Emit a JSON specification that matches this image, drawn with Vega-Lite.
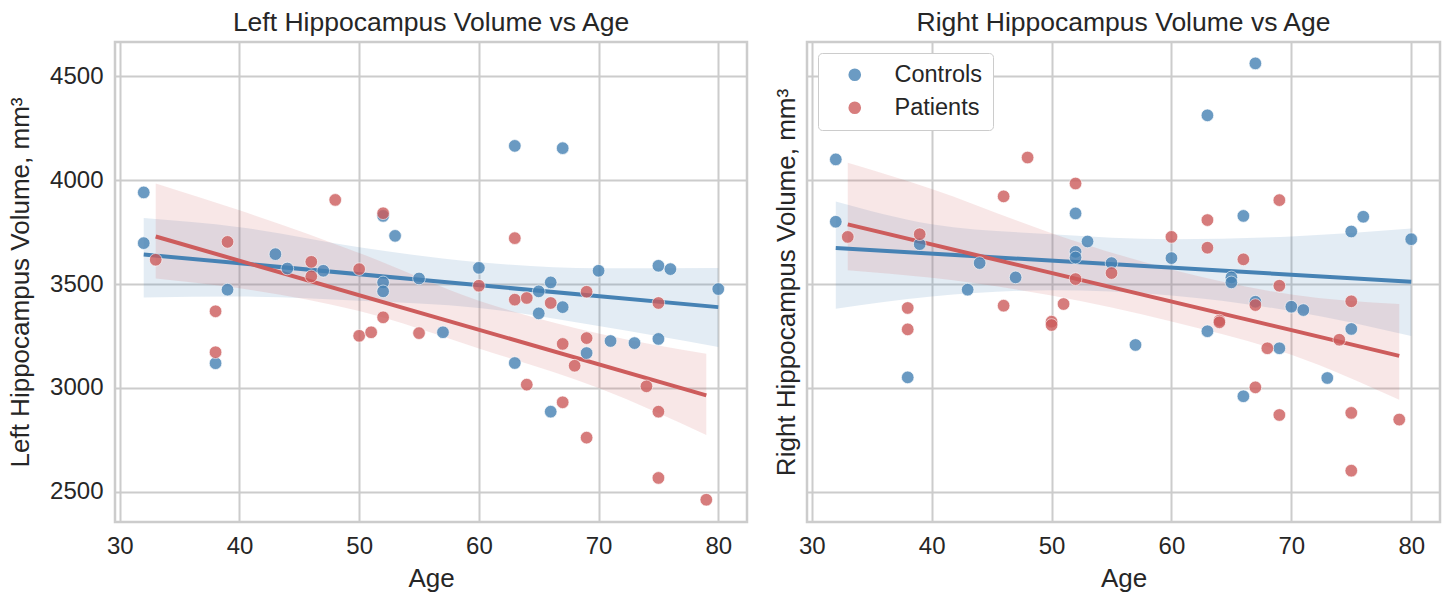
{
  "$schema": "https://vega.github.io/schema/vega-lite/v6.json",
  "background": "white",
  "padding": {"left": 6, "top": 8, "right": 4, "bottom": 2},
  "spacing": 22,
  "config": {
    "font": "Liberation Sans",
    "view": {"stroke": "#cccccc", "strokeWidth": 2.5},
    "axis": {
      "grid": true, "gridColor": "#cccccc", "gridWidth": 2,
      "domain": false, "ticks": false,
      "labelFontSize": 24, "labelColor": "#262626", "labelPadding": 12,
      "titleFontSize": 26, "titleColor": "#262626", "titleFontWeight": "normal"
    },
    "title": {"fontSize": 26.5, "fontWeight": "normal", "color": "#262626", "offset": 6},
    "legend": {
      "labelFontSize": 23.5, "labelColor": "#262626",
      "symbolType": "circle", "symbolSize": 160, "symbolOpacity": 0.8, "symbolStrokeWidth": 0,
      "strokeColor": "#cccccc", "fillColor": "white", "cornerRadius": 4, "padding": 10,
      "rowPadding": 8, "symbolOffset": 15, "labelOffset": 28
    }
  },
  "datasets": {
    "points": [
      {"group": "Controls", "age": 32, "left": 3941, "right": 4100},
      {"group": "Controls", "age": 32, "left": 3697, "right": 3800},
      {"group": "Controls", "age": 38, "left": 3119, "right": 3051},
      {"group": "Controls", "age": 39, "left": 3473, "right": 3692},
      {"group": "Controls", "age": 43, "left": 3644, "right": 3473},
      {"group": "Controls", "age": 44, "left": 3575, "right": 3601},
      {"group": "Controls", "age": 47, "left": 3564, "right": 3532},
      {"group": "Controls", "age": 52, "left": 3828, "right": 3840},
      {"group": "Controls", "age": 52, "left": 3508, "right": 3655},
      {"group": "Controls", "age": 52, "left": 3465, "right": 3628},
      {"group": "Controls", "age": 53, "left": 3732, "right": 3705},
      {"group": "Controls", "age": 55, "left": 3527, "right": 3601},
      {"group": "Controls", "age": 57, "left": 3268, "right": 3207},
      {"group": "Controls", "age": 60, "left": 3578, "right": 3625},
      {"group": "Controls", "age": 63, "left": 4165, "right": 4312},
      {"group": "Controls", "age": 63, "left": 3120, "right": 3273},
      {"group": "Controls", "age": 65, "left": 3465, "right": 3532},
      {"group": "Controls", "age": 65, "left": 3359, "right": 3508},
      {"group": "Controls", "age": 66, "left": 3508, "right": 3828},
      {"group": "Controls", "age": 66, "left": 2886, "right": 2960},
      {"group": "Controls", "age": 67, "left": 4154, "right": 4562},
      {"group": "Controls", "age": 67, "left": 3389, "right": 3415},
      {"group": "Controls", "age": 69, "left": 3168, "right": 3191},
      {"group": "Controls", "age": 70, "left": 3564, "right": 3391},
      {"group": "Controls", "age": 71, "left": 3226, "right": 3375},
      {"group": "Controls", "age": 73, "left": 3216, "right": 3048},
      {"group": "Controls", "age": 75, "left": 3588, "right": 3753},
      {"group": "Controls", "age": 75, "left": 3236, "right": 3284},
      {"group": "Controls", "age": 76, "left": 3572, "right": 3824},
      {"group": "Controls", "age": 80, "left": 3476, "right": 3716},
      {"group": "Patients", "age": 33, "left": 3617, "right": 3727},
      {"group": "Patients", "age": 38, "left": 3369, "right": 3385},
      {"group": "Patients", "age": 38, "left": 3172, "right": 3282},
      {"group": "Patients", "age": 39, "left": 3703, "right": 3740},
      {"group": "Patients", "age": 46, "left": 3607, "right": 3922},
      {"group": "Patients", "age": 46, "left": 3537, "right": 3396},
      {"group": "Patients", "age": 48, "left": 3905, "right": 4109},
      {"group": "Patients", "age": 50, "left": 3572, "right": 3319},
      {"group": "Patients", "age": 50, "left": 3251, "right": 3303},
      {"group": "Patients", "age": 51, "left": 3268, "right": 3404},
      {"group": "Patients", "age": 52, "left": 3841, "right": 3984},
      {"group": "Patients", "age": 52, "left": 3340, "right": 3524},
      {"group": "Patients", "age": 55, "left": 3264, "right": 3553},
      {"group": "Patients", "age": 60, "left": 3492, "right": 3727},
      {"group": "Patients", "age": 63, "left": 3721, "right": 3808},
      {"group": "Patients", "age": 63, "left": 3425, "right": 3675},
      {"group": "Patients", "age": 64, "left": 3433, "right": 3324},
      {"group": "Patients", "age": 64, "left": 3016, "right": 3316},
      {"group": "Patients", "age": 66, "left": 3409, "right": 3619},
      {"group": "Patients", "age": 67, "left": 3212, "right": 3399},
      {"group": "Patients", "age": 67, "left": 2931, "right": 3003},
      {"group": "Patients", "age": 68, "left": 3107, "right": 3191},
      {"group": "Patients", "age": 69, "left": 3463, "right": 3904},
      {"group": "Patients", "age": 69, "left": 3240, "right": 3492},
      {"group": "Patients", "age": 69, "left": 2761, "right": 2870},
      {"group": "Patients", "age": 74, "left": 3008, "right": 3232},
      {"group": "Patients", "age": 75, "left": 3409, "right": 3417},
      {"group": "Patients", "age": 75, "left": 2886, "right": 2880},
      {"group": "Patients", "age": 75, "left": 2567, "right": 2602},
      {"group": "Patients", "age": 79, "left": 2462, "right": 2848}
    ],
    "bands": [
      {"group": "Controls", "age": 32, "leftLow": 3435, "leftHigh": 3818, "rightLow": 3381, "rightHigh": 3898},
      {"group": "Controls", "age": 40, "leftLow": 3440, "leftHigh": 3774, "rightLow": 3440, "rightHigh": 3788},
      {"group": "Controls", "age": 50, "leftLow": 3420, "leftHigh": 3677, "rightLow": 3470, "rightHigh": 3740},
      {"group": "Controls", "age": 60, "leftLow": 3385, "leftHigh": 3605, "rightLow": 3445, "rightHigh": 3716},
      {"group": "Controls", "age": 70, "leftLow": 3298, "leftHigh": 3576, "rightLow": 3370, "rightHigh": 3729},
      {"group": "Controls", "age": 80, "leftLow": 3197, "leftHigh": 3577, "rightLow": 3250, "rightHigh": 3767},
      {"group": "Patients", "age": 33, "leftLow": 3527, "leftHigh": 3984, "rightLow": 3567, "rightHigh": 4084},
      {"group": "Patients", "age": 40, "leftLow": 3480, "leftHigh": 3855, "rightLow": 3530, "rightHigh": 3958},
      {"group": "Patients", "age": 50, "leftLow": 3370, "leftHigh": 3650, "rightLow": 3445, "rightHigh": 3745},
      {"group": "Patients", "age": 60, "leftLow": 3190, "leftHigh": 3420, "rightLow": 3320, "rightHigh": 3570},
      {"group": "Patients", "age": 70, "leftLow": 3000, "leftHigh": 3262, "rightLow": 3160, "rightHigh": 3450},
      {"group": "Patients", "age": 79, "leftLow": 2774, "leftHigh": 3165, "rightLow": 2943, "rightHigh": 3404}
    ]
  },
  "resolve": {"scale": {"color": "independent"}, "legend": {"color": "independent"}},
  "hconcat": [
    {
      "width": 632, "height": 480,
      "title": "Left Hippocampus Volume vs Age",
      "layer": [
        {
          "data": {"name": "bands"},
          "mark": {"type": "area", "opacity": 0.15, "interpolate": "monotone"},
          "encoding": {
            "x": {"field": "age", "type": "quantitative", "scale": {"domain": [29.6, 82.4], "nice": false, "zero": false}, "axis": {"values": [30, 40, 50, 60, 70, 80], "title": "Age", "titlePadding": 7}},
            "y": {"field": "leftLow", "type": "quantitative", "scale": {"domain": [2355, 4665], "nice": false, "zero": false}, "axis": {"values": [2500, 3000, 3500, 4000, 4500], "format": "d", "title": "Left Hippocampus Volume, mm³", "titlePadding": 16}},
            "y2": {"field": "leftHigh"},
            "fill": {"field": "group", "type": "nominal", "scale": {"domain": ["Controls", "Patients"], "range": ["#4682b4", "#cd5c5c"]}, "legend": null}
          }
        },
        {
          "data": {"name": "points"},
          "transform": [{"regression": "left", "on": "age", "groupby": ["group"]}],
          "mark": {"type": "line", "strokeWidth": 4},
          "encoding": {
            "x": {"field": "age", "type": "quantitative"},
            "y": {"field": "left", "type": "quantitative"},
            "stroke": {"field": "group", "type": "nominal", "scale": {"domain": ["Controls", "Patients"], "range": ["#4682b4", "#cd5c5c"]}, "legend": null}
          }
        },
        {
          "data": {"name": "points"},
          "mark": {"type": "point", "shape": "circle", "filled": true, "size": 160, "opacity": 0.8, "stroke": "white", "strokeWidth": 0.7},
          "encoding": {
            "x": {"field": "age", "type": "quantitative"},
            "y": {"field": "left", "type": "quantitative"},
            "color": {"field": "group", "type": "nominal", "scale": {"domain": ["Controls", "Patients"], "range": ["#4682b4", "#cd5c5c"]}, "legend": null}
          }
        }
      ]
    },
    {
      "width": 633, "height": 480,
      "title": "Right Hippocampus Volume vs Age",
      "layer": [
        {
          "data": {"name": "bands"},
          "mark": {"type": "area", "opacity": 0.15, "interpolate": "monotone"},
          "encoding": {
            "x": {"field": "age", "type": "quantitative", "scale": {"domain": [29.6, 82.4], "nice": false, "zero": false}, "axis": {"values": [30, 40, 50, 60, 70, 80], "title": "Age", "titlePadding": 7}},
            "y": {"field": "rightLow", "type": "quantitative", "scale": {"domain": [2355, 4665], "nice": false, "zero": false}, "axis": {"values": [2500, 3000, 3500, 4000, 4500], "labels": false, "title": "Right Hippocampus Volume, mm³", "titlePadding": 8}},
            "y2": {"field": "rightHigh"},
            "fill": {"field": "group", "type": "nominal", "scale": {"domain": ["Controls", "Patients"], "range": ["#4682b4", "#cd5c5c"]}, "legend": null}
          }
        },
        {
          "data": {"name": "points"},
          "transform": [{"regression": "right", "on": "age", "groupby": ["group"]}],
          "mark": {"type": "line", "strokeWidth": 4},
          "encoding": {
            "x": {"field": "age", "type": "quantitative"},
            "y": {"field": "right", "type": "quantitative"},
            "stroke": {"field": "group", "type": "nominal", "scale": {"domain": ["Controls", "Patients"], "range": ["#4682b4", "#cd5c5c"]}, "legend": null}
          }
        },
        {
          "data": {"name": "points"},
          "mark": {"type": "point", "shape": "circle", "filled": true, "size": 160, "opacity": 0.8, "stroke": "white", "strokeWidth": 0.7},
          "encoding": {
            "x": {"field": "age", "type": "quantitative"},
            "y": {"field": "right", "type": "quantitative"},
            "color": {"field": "group", "type": "nominal", "scale": {"domain": ["Controls", "Patients"], "range": ["#4682b4", "#cd5c5c"]}, "legend": {"title": null, "orient": "top-left", "offset": 11}}
          }
        }
      ]
    }
  ]
}
